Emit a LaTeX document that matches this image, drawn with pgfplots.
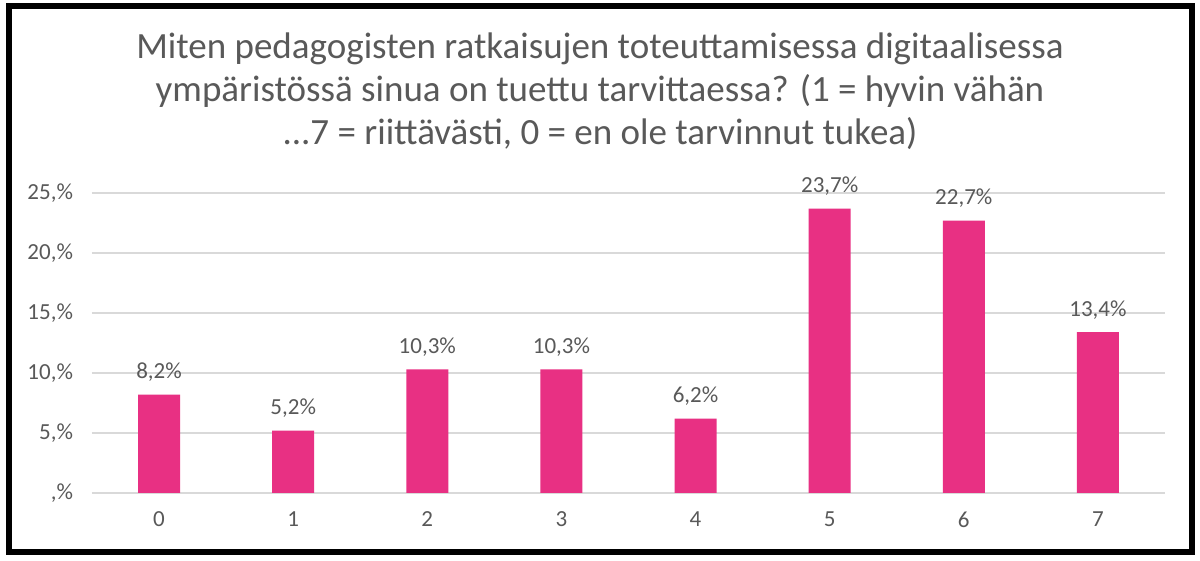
\documentclass[border=0pt]{standalone}
\usepackage{pgfplots}
\pgfplotsset{compat=1.18}
\usepackage{fontspec}
\setmainfont{Carlito}
\definecolor{barc}{HTML}{E83083}
\definecolor{txt}{HTML}{595959}
\definecolor{gridc}{HTML}{D9D9D9}
\begin{document}
\begin{tikzpicture}[x=1pt,y=1pt]
\useasboundingbox (0,0) rectangle (600,280.5);
\fill[white] (0,0) rectangle (600,280.5);
\draw[black, line width=3pt] (4.5,4.5) rectangle (596,277.5);
\node[align=center, text=txt, font=\fontsize{18.5}{21.5}\selectfont] at (300,235)
  {Miten pedagogisten ratkaisujen toteuttamisessa digitaalisessa\\
   ympäristössä sinua on tuettu tarvittaessa? (1 = hyvin vähän\\
   ...7 = riittävästi, 0 = en ole tarvinnut tukea)};
\begin{axis}[
  at={(46pt,34pt)}, anchor=south west,
  scale only axis, width=536.5pt, height=150pt,
  xmin=-0.5, xmax=7.5, ymin=0, ymax=25,
  axis line style={draw=none},
  major tick length=0pt,
  ymajorgrids, grid style={gridc, line width=0.9pt},
  ytick={0,5,10,15,20,25},
  yticklabels={{,\%},{5,\%},{10,\%},{15,\%},{20,\%},{25,\%}},
  xtick={0,...,7},
  xticklabels={0,1,2,3,4,5,6,7},
  tick label style={text=txt, font=\fontsize{11.5}{13}\selectfont},
  yticklabel style={xshift=-6pt},
  xticklabel style={yshift=-6pt},
  ybar, bar width=21pt,
  clip=false,
  nodes near coords={\pgfmathprintnumber[fixed, fixed zerofill, precision=1, use comma, assume math mode=true]{\pgfplotspointmeta}\%},
  every node near coord/.append style={text=txt, font=\fontsize{11.5}{13}\selectfont, yshift=3pt},
]
\addplot[fill=barc, draw=none] coordinates {
  (0,8.2) (1,5.2) (2,10.3) (3,10.3) (4,6.2) (5,23.7) (6,22.7) (7,13.4)
};
\end{axis}
\end{tikzpicture}
\end{document}
